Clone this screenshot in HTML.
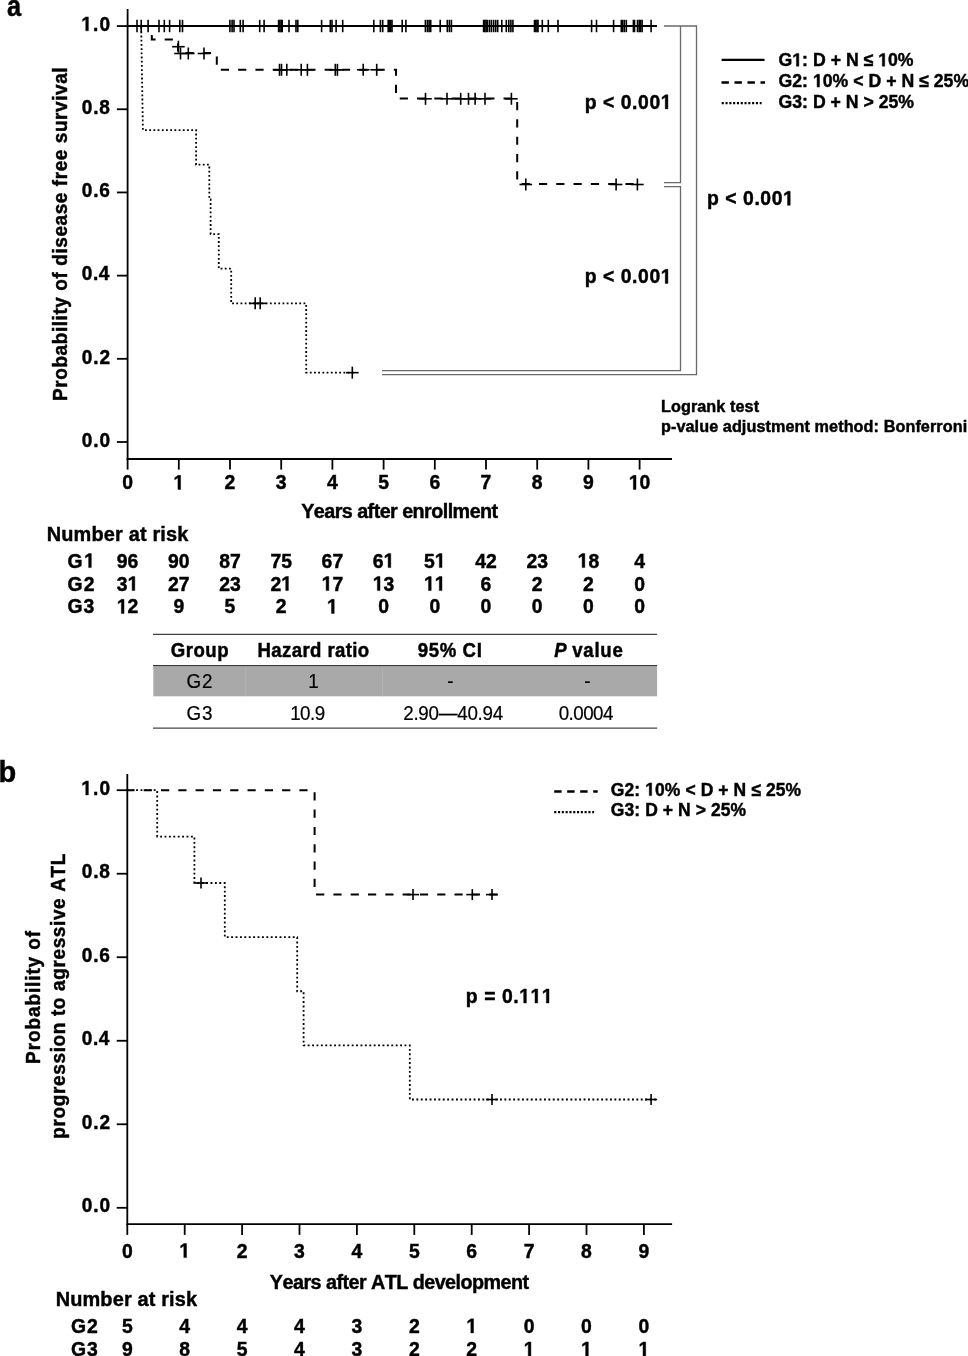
<!DOCTYPE html>
<html><head><meta charset="utf-8"><style>
html,body{margin:0;padding:0;background:#fff;}
body{width:968px;height:1356px;overflow:hidden;}
svg{display:block;font-family:"Liberation Sans",sans-serif;font-kerning:none;-webkit-font-smoothing:antialiased;will-change:transform;}
text{stroke:#000;stroke-width:0.2px;}
text.b{stroke:#000;stroke-width:0.45px;}
tspan.h{fill:none;stroke:none;}
</style></head><body>
<svg width="968" height="1356" viewBox="0 0 968 1356">
<rect width="968" height="1356" fill="#fff"/>
<text class="b" x="7.04" y="15.60" font-size="29.09" font-weight="bold" textLength="14.14" lengthAdjust="spacingAndGlyphs">a</text>
<line x1="127.60" y1="9.00" x2="127.60" y2="459.90" stroke="#000" stroke-width="1.8" />
<line x1="126.70" y1="459.00" x2="672.00" y2="459.00" stroke="#000" stroke-width="1.8" />
<line x1="116.90" y1="442.00" x2="127.60" y2="442.00" stroke="#000" stroke-width="1.8" />
<text class="b" transform="scale(0.95,1)" x="86.14" y="446.70" font-size="20.10" font-weight="bold" font-style="normal" textLength="29.74" lengthAdjust="spacing" fill="#000">0.0</text>
<line x1="116.90" y1="358.81" x2="127.60" y2="358.81" stroke="#000" stroke-width="1.8" />
<text class="b" transform="scale(0.95,1)" x="86.14" y="363.51" font-size="20.10" font-weight="bold" font-style="normal" textLength="29.74" lengthAdjust="spacing" fill="#000">0.2</text>
<line x1="116.90" y1="275.63" x2="127.60" y2="275.63" stroke="#000" stroke-width="1.8" />
<text class="b" transform="scale(0.95,1)" x="86.14" y="280.33" font-size="20.10" font-weight="bold" font-style="normal" textLength="29.03" lengthAdjust="spacing" fill="#000">0.4</text>
<line x1="116.90" y1="192.44" x2="127.60" y2="192.44" stroke="#000" stroke-width="1.8" />
<text class="b" transform="scale(0.95,1)" x="86.14" y="197.14" font-size="20.10" font-weight="bold" font-style="normal" textLength="29.64" lengthAdjust="spacing" fill="#000">0.6</text>
<line x1="116.90" y1="109.26" x2="127.60" y2="109.26" stroke="#000" stroke-width="1.8" />
<text class="b" transform="scale(0.95,1)" x="86.14" y="113.96" font-size="20.10" font-weight="bold" font-style="normal" textLength="29.54" lengthAdjust="spacing" fill="#000">0.8</text>
<line x1="116.90" y1="26.07" x2="127.60" y2="26.07" stroke="#000" stroke-width="1.8" />
<text class="b" transform="scale(0.95,1)" x="85.57" y="30.77" font-size="20.10" font-weight="bold" font-style="normal" textLength="30.31" lengthAdjust="spacing" fill="#000"><tspan class="h">1</tspan>.0</text>
<line x1="127.60" y1="459.00" x2="127.60" y2="469.60" stroke="#000" stroke-width="1.8" />
<text class="b" transform="scale(0.95,1)" x="134.32" y="489.40" font-size="20.40" font-weight="bold" font-style="normal" text-anchor="middle" fill="#000">0</text>
<line x1="178.80" y1="459.00" x2="178.80" y2="469.60" stroke="#000" stroke-width="1.8" />
<text class="b" transform="scale(0.95,1)" x="188.21" y="489.40" font-size="20.40" font-weight="bold" font-style="normal" text-anchor="middle" fill="#000"><tspan class="h">1</tspan></text>
<line x1="230.00" y1="459.00" x2="230.00" y2="469.60" stroke="#000" stroke-width="1.8" />
<text class="b" transform="scale(0.95,1)" x="242.11" y="489.40" font-size="20.40" font-weight="bold" font-style="normal" text-anchor="middle" fill="#000">2</text>
<line x1="281.20" y1="459.00" x2="281.20" y2="469.60" stroke="#000" stroke-width="1.8" />
<text class="b" transform="scale(0.95,1)" x="296.00" y="489.40" font-size="20.40" font-weight="bold" font-style="normal" text-anchor="middle" fill="#000">3</text>
<line x1="332.40" y1="459.00" x2="332.40" y2="469.60" stroke="#000" stroke-width="1.8" />
<text class="b" transform="scale(0.95,1)" x="349.89" y="489.40" font-size="20.40" font-weight="bold" font-style="normal" text-anchor="middle" fill="#000">4</text>
<line x1="383.60" y1="459.00" x2="383.60" y2="469.60" stroke="#000" stroke-width="1.8" />
<text class="b" transform="scale(0.95,1)" x="403.79" y="489.40" font-size="20.40" font-weight="bold" font-style="normal" text-anchor="middle" fill="#000">5</text>
<line x1="434.80" y1="459.00" x2="434.80" y2="469.60" stroke="#000" stroke-width="1.8" />
<text class="b" transform="scale(0.95,1)" x="457.68" y="489.40" font-size="20.40" font-weight="bold" font-style="normal" text-anchor="middle" fill="#000">6</text>
<line x1="486.00" y1="459.00" x2="486.00" y2="469.60" stroke="#000" stroke-width="1.8" />
<text class="b" transform="scale(0.95,1)" x="511.58" y="489.40" font-size="20.40" font-weight="bold" font-style="normal" text-anchor="middle" fill="#000">7</text>
<line x1="537.20" y1="459.00" x2="537.20" y2="469.60" stroke="#000" stroke-width="1.8" />
<text class="b" transform="scale(0.95,1)" x="565.47" y="489.40" font-size="20.40" font-weight="bold" font-style="normal" text-anchor="middle" fill="#000">8</text>
<line x1="588.40" y1="459.00" x2="588.40" y2="469.60" stroke="#000" stroke-width="1.8" />
<text class="b" transform="scale(0.95,1)" x="619.37" y="489.40" font-size="20.40" font-weight="bold" font-style="normal" text-anchor="middle" fill="#000">9</text>
<line x1="639.60" y1="459.00" x2="639.60" y2="469.60" stroke="#000" stroke-width="1.8" />
<text class="b" transform="scale(0.95,1)" x="673.26" y="489.40" font-size="20.40" font-weight="bold" font-style="normal" text-anchor="middle" fill="#000"><tspan class="h">1</tspan>0</text>
<text class="b" transform="scale(0.95,1)" x="317.06" y="517.80" font-size="20.80" font-weight="bold" font-style="normal" textLength="207.32" lengthAdjust="spacing" fill="#000">Years after enrollment</text>
<text class="b" transform="translate(67.20,400.98) rotate(-90) scale(0.95,1)" x="0" y="0" font-size="20.00" font-weight="bold" textLength="351.18" lengthAdjust="spacing">Probability of disease free survival</text>
<line x1="127.60" y1="26.00" x2="657.00" y2="26.00" stroke="#000" stroke-width="2.2" />
<line x1="137.00" y1="19.80" x2="137.00" y2="32.20" stroke="#000" stroke-width="1.6" />
<line x1="141.20" y1="19.80" x2="141.20" y2="32.20" stroke="#000" stroke-width="1.6" />
<line x1="148.10" y1="19.80" x2="148.10" y2="32.20" stroke="#000" stroke-width="1.6" />
<line x1="159.00" y1="19.80" x2="159.00" y2="32.20" stroke="#000" stroke-width="1.6" />
<line x1="164.30" y1="19.80" x2="164.30" y2="32.20" stroke="#000" stroke-width="1.6" />
<line x1="169.60" y1="19.80" x2="169.60" y2="32.20" stroke="#000" stroke-width="1.6" />
<line x1="179.80" y1="19.80" x2="179.80" y2="32.20" stroke="#000" stroke-width="1.6" />
<line x1="182.50" y1="19.80" x2="182.50" y2="32.20" stroke="#000" stroke-width="1.6" />
<line x1="229.90" y1="19.80" x2="229.90" y2="32.20" stroke="#000" stroke-width="1.6" />
<line x1="232.10" y1="19.80" x2="232.10" y2="32.20" stroke="#000" stroke-width="1.6" />
<line x1="234.00" y1="19.80" x2="234.00" y2="32.20" stroke="#000" stroke-width="1.6" />
<line x1="240.30" y1="19.80" x2="240.30" y2="32.20" stroke="#000" stroke-width="1.6" />
<line x1="243.10" y1="19.80" x2="243.10" y2="32.20" stroke="#000" stroke-width="1.6" />
<line x1="259.70" y1="19.80" x2="259.70" y2="32.20" stroke="#000" stroke-width="1.6" />
<line x1="264.10" y1="19.80" x2="264.10" y2="32.20" stroke="#000" stroke-width="1.6" />
<line x1="278.60" y1="19.80" x2="278.60" y2="32.20" stroke="#000" stroke-width="1.6" />
<line x1="279.90" y1="19.80" x2="279.90" y2="32.20" stroke="#000" stroke-width="1.6" />
<line x1="281.20" y1="19.80" x2="281.20" y2="32.20" stroke="#000" stroke-width="1.6" />
<line x1="282.20" y1="19.80" x2="282.20" y2="32.20" stroke="#000" stroke-width="1.6" />
<line x1="289.00" y1="19.80" x2="289.00" y2="32.20" stroke="#000" stroke-width="1.6" />
<line x1="296.00" y1="19.80" x2="296.00" y2="32.20" stroke="#000" stroke-width="1.6" />
<line x1="297.80" y1="19.80" x2="297.80" y2="32.20" stroke="#000" stroke-width="1.6" />
<line x1="321.60" y1="19.80" x2="321.60" y2="32.20" stroke="#000" stroke-width="1.6" />
<line x1="330.30" y1="19.80" x2="330.30" y2="32.20" stroke="#000" stroke-width="1.6" />
<line x1="332.00" y1="19.80" x2="332.00" y2="32.20" stroke="#000" stroke-width="1.6" />
<line x1="336.10" y1="19.80" x2="336.10" y2="32.20" stroke="#000" stroke-width="1.6" />
<line x1="342.70" y1="19.80" x2="342.70" y2="32.20" stroke="#000" stroke-width="1.6" />
<line x1="373.80" y1="19.80" x2="373.80" y2="32.20" stroke="#000" stroke-width="1.6" />
<line x1="380.40" y1="19.80" x2="380.40" y2="32.20" stroke="#000" stroke-width="1.6" />
<line x1="382.70" y1="19.80" x2="382.70" y2="32.20" stroke="#000" stroke-width="1.6" />
<line x1="388.20" y1="19.80" x2="388.20" y2="32.20" stroke="#000" stroke-width="1.6" />
<line x1="389.30" y1="19.80" x2="389.30" y2="32.20" stroke="#000" stroke-width="1.6" />
<line x1="390.70" y1="19.80" x2="390.70" y2="32.20" stroke="#000" stroke-width="1.6" />
<line x1="392.00" y1="19.80" x2="392.00" y2="32.20" stroke="#000" stroke-width="1.6" />
<line x1="402.20" y1="19.80" x2="402.20" y2="32.20" stroke="#000" stroke-width="1.6" />
<line x1="405.90" y1="19.80" x2="405.90" y2="32.20" stroke="#000" stroke-width="1.6" />
<line x1="425.40" y1="19.80" x2="425.40" y2="32.20" stroke="#000" stroke-width="1.6" />
<line x1="427.40" y1="19.80" x2="427.40" y2="32.20" stroke="#000" stroke-width="1.6" />
<line x1="429.10" y1="19.80" x2="429.10" y2="32.20" stroke="#000" stroke-width="1.6" />
<line x1="430.70" y1="19.80" x2="430.70" y2="32.20" stroke="#000" stroke-width="1.6" />
<line x1="440.20" y1="19.80" x2="440.20" y2="32.20" stroke="#000" stroke-width="1.6" />
<line x1="447.30" y1="19.80" x2="447.30" y2="32.20" stroke="#000" stroke-width="1.6" />
<line x1="449.40" y1="19.80" x2="449.40" y2="32.20" stroke="#000" stroke-width="1.6" />
<line x1="451.40" y1="19.80" x2="451.40" y2="32.20" stroke="#000" stroke-width="1.6" />
<line x1="483.60" y1="19.80" x2="483.60" y2="32.20" stroke="#000" stroke-width="1.6" />
<line x1="484.80" y1="19.80" x2="484.80" y2="32.20" stroke="#000" stroke-width="1.6" />
<line x1="486.10" y1="19.80" x2="486.10" y2="32.20" stroke="#000" stroke-width="1.6" />
<line x1="487.30" y1="19.80" x2="487.30" y2="32.20" stroke="#000" stroke-width="1.6" />
<line x1="489.40" y1="19.80" x2="489.40" y2="32.20" stroke="#000" stroke-width="1.6" />
<line x1="491.40" y1="19.80" x2="491.40" y2="32.20" stroke="#000" stroke-width="1.6" />
<line x1="493.60" y1="19.80" x2="493.60" y2="32.20" stroke="#000" stroke-width="1.6" />
<line x1="495.70" y1="19.80" x2="495.70" y2="32.20" stroke="#000" stroke-width="1.6" />
<line x1="497.70" y1="19.80" x2="497.70" y2="32.20" stroke="#000" stroke-width="1.6" />
<line x1="501.80" y1="19.80" x2="501.80" y2="32.20" stroke="#000" stroke-width="1.6" />
<line x1="506.30" y1="19.80" x2="506.30" y2="32.20" stroke="#000" stroke-width="1.6" />
<line x1="508.80" y1="19.80" x2="508.80" y2="32.20" stroke="#000" stroke-width="1.6" />
<line x1="510.90" y1="19.80" x2="510.90" y2="32.20" stroke="#000" stroke-width="1.6" />
<line x1="512.90" y1="19.80" x2="512.90" y2="32.20" stroke="#000" stroke-width="1.6" />
<line x1="534.50" y1="19.80" x2="534.50" y2="32.20" stroke="#000" stroke-width="1.6" />
<line x1="535.70" y1="19.80" x2="535.70" y2="32.20" stroke="#000" stroke-width="1.6" />
<line x1="537.00" y1="19.80" x2="537.00" y2="32.20" stroke="#000" stroke-width="1.6" />
<line x1="538.00" y1="19.80" x2="538.00" y2="32.20" stroke="#000" stroke-width="1.6" />
<line x1="542.30" y1="19.80" x2="542.30" y2="32.20" stroke="#000" stroke-width="1.6" />
<line x1="548.30" y1="19.80" x2="548.30" y2="32.20" stroke="#000" stroke-width="1.6" />
<line x1="558.00" y1="19.80" x2="558.00" y2="32.20" stroke="#000" stroke-width="1.6" />
<line x1="591.60" y1="19.80" x2="591.60" y2="32.20" stroke="#000" stroke-width="1.6" />
<line x1="596.50" y1="19.80" x2="596.50" y2="32.20" stroke="#000" stroke-width="1.6" />
<line x1="613.60" y1="19.80" x2="613.60" y2="32.20" stroke="#000" stroke-width="1.6" />
<line x1="621.30" y1="19.80" x2="621.30" y2="32.20" stroke="#000" stroke-width="1.6" />
<line x1="622.60" y1="19.80" x2="622.60" y2="32.20" stroke="#000" stroke-width="1.6" />
<line x1="624.30" y1="19.80" x2="624.30" y2="32.20" stroke="#000" stroke-width="1.6" />
<line x1="626.30" y1="19.80" x2="626.30" y2="32.20" stroke="#000" stroke-width="1.6" />
<line x1="633.40" y1="19.80" x2="633.40" y2="32.20" stroke="#000" stroke-width="1.6" />
<line x1="634.50" y1="19.80" x2="634.50" y2="32.20" stroke="#000" stroke-width="1.6" />
<line x1="637.50" y1="19.80" x2="637.50" y2="32.20" stroke="#000" stroke-width="1.6" />
<line x1="639.20" y1="19.80" x2="639.20" y2="32.20" stroke="#000" stroke-width="1.6" />
<line x1="640.50" y1="19.80" x2="640.50" y2="32.20" stroke="#000" stroke-width="1.6" />
<line x1="642.10" y1="19.80" x2="642.10" y2="32.20" stroke="#000" stroke-width="1.6" />
<line x1="651.10" y1="19.80" x2="651.10" y2="32.20" stroke="#000" stroke-width="1.6" />
<path d="M127.60,26.07 L151.80,26.07 L151.80,39.38 L178.00,39.38 L178.00,53.11 L216.80,53.11 L216.80,69.74 L396.00,69.74 L396.00,98.44 L517.20,98.44 L517.20,184.12 L640.00,184.12" fill="none" stroke="#000" stroke-width="2.0" stroke-dasharray="8.2,9.1" stroke-dashoffset="1.5"/>
<line x1="172.10" y1="46.70" x2="184.70" y2="46.70" stroke="#000" stroke-width="1.6" />
<line x1="178.40" y1="40.70" x2="178.40" y2="52.70" stroke="#000" stroke-width="1.6" />
<line x1="174.20" y1="53.50" x2="186.80" y2="53.50" stroke="#000" stroke-width="1.6" />
<line x1="180.50" y1="47.50" x2="180.50" y2="59.50" stroke="#000" stroke-width="1.6" />
<line x1="182.00" y1="53.50" x2="194.60" y2="53.50" stroke="#000" stroke-width="1.6" />
<line x1="188.30" y1="47.50" x2="188.30" y2="59.50" stroke="#000" stroke-width="1.6" />
<line x1="197.70" y1="53.50" x2="210.30" y2="53.50" stroke="#000" stroke-width="1.6" />
<line x1="204.00" y1="47.50" x2="204.00" y2="59.50" stroke="#000" stroke-width="1.6" />
<line x1="273.20" y1="69.80" x2="285.80" y2="69.80" stroke="#000" stroke-width="1.6" />
<line x1="279.50" y1="63.80" x2="279.50" y2="75.80" stroke="#000" stroke-width="1.6" />
<line x1="275.20" y1="69.80" x2="287.80" y2="69.80" stroke="#000" stroke-width="1.6" />
<line x1="281.50" y1="63.80" x2="281.50" y2="75.80" stroke="#000" stroke-width="1.6" />
<line x1="280.50" y1="69.80" x2="293.10" y2="69.80" stroke="#000" stroke-width="1.6" />
<line x1="286.80" y1="63.80" x2="286.80" y2="75.80" stroke="#000" stroke-width="1.6" />
<line x1="294.90" y1="69.80" x2="307.50" y2="69.80" stroke="#000" stroke-width="1.6" />
<line x1="301.20" y1="63.80" x2="301.20" y2="75.80" stroke="#000" stroke-width="1.6" />
<line x1="301.10" y1="69.80" x2="313.70" y2="69.80" stroke="#000" stroke-width="1.6" />
<line x1="307.40" y1="63.80" x2="307.40" y2="75.80" stroke="#000" stroke-width="1.6" />
<line x1="329.00" y1="69.80" x2="341.60" y2="69.80" stroke="#000" stroke-width="1.6" />
<line x1="335.30" y1="63.80" x2="335.30" y2="75.80" stroke="#000" stroke-width="1.6" />
<line x1="331.10" y1="69.80" x2="343.70" y2="69.80" stroke="#000" stroke-width="1.6" />
<line x1="337.40" y1="63.80" x2="337.40" y2="75.80" stroke="#000" stroke-width="1.6" />
<line x1="356.90" y1="69.80" x2="369.50" y2="69.80" stroke="#000" stroke-width="1.6" />
<line x1="363.20" y1="63.80" x2="363.20" y2="75.80" stroke="#000" stroke-width="1.6" />
<line x1="370.40" y1="69.80" x2="383.00" y2="69.80" stroke="#000" stroke-width="1.6" />
<line x1="376.70" y1="63.80" x2="376.70" y2="75.80" stroke="#000" stroke-width="1.6" />
<line x1="419.20" y1="98.80" x2="431.80" y2="98.80" stroke="#000" stroke-width="1.6" />
<line x1="425.50" y1="92.80" x2="425.50" y2="104.80" stroke="#000" stroke-width="1.6" />
<line x1="440.70" y1="98.80" x2="453.30" y2="98.80" stroke="#000" stroke-width="1.6" />
<line x1="447.00" y1="92.80" x2="447.00" y2="104.80" stroke="#000" stroke-width="1.6" />
<line x1="454.40" y1="98.80" x2="467.00" y2="98.80" stroke="#000" stroke-width="1.6" />
<line x1="460.70" y1="92.80" x2="460.70" y2="104.80" stroke="#000" stroke-width="1.6" />
<line x1="462.20" y1="98.80" x2="474.80" y2="98.80" stroke="#000" stroke-width="1.6" />
<line x1="468.50" y1="92.80" x2="468.50" y2="104.80" stroke="#000" stroke-width="1.6" />
<line x1="468.80" y1="98.80" x2="481.40" y2="98.80" stroke="#000" stroke-width="1.6" />
<line x1="475.10" y1="92.80" x2="475.10" y2="104.80" stroke="#000" stroke-width="1.6" />
<line x1="478.70" y1="98.80" x2="491.30" y2="98.80" stroke="#000" stroke-width="1.6" />
<line x1="485.00" y1="92.80" x2="485.00" y2="104.80" stroke="#000" stroke-width="1.6" />
<line x1="505.10" y1="98.80" x2="517.70" y2="98.80" stroke="#000" stroke-width="1.6" />
<line x1="511.40" y1="92.80" x2="511.40" y2="104.80" stroke="#000" stroke-width="1.6" />
<line x1="519.50" y1="184.50" x2="532.10" y2="184.50" stroke="#000" stroke-width="1.6" />
<line x1="525.80" y1="178.50" x2="525.80" y2="190.50" stroke="#000" stroke-width="1.6" />
<line x1="609.80" y1="184.50" x2="622.40" y2="184.50" stroke="#000" stroke-width="1.6" />
<line x1="616.10" y1="178.50" x2="616.10" y2="190.50" stroke="#000" stroke-width="1.6" />
<line x1="631.10" y1="184.50" x2="643.70" y2="184.50" stroke="#000" stroke-width="1.6" />
<line x1="637.40" y1="178.50" x2="637.40" y2="190.50" stroke="#000" stroke-width="1.6" />
<path d="M141.2,27.2 L142.9,130.05 L142.90,130.05 L196.10,130.05 L196.10,164.70 L209.30,164.70 L209.30,199.39 L210.60,199.39 L210.60,234.03 L218.80,234.03 L218.80,268.68 L231.20,268.68 L231.20,303.37 L306.20,303.37 L306.20,372.66 L356.00,372.66" fill="none" stroke="#000" stroke-width="1.8" stroke-dasharray="1.8,2.4" />
<line x1="248.90" y1="303.37" x2="261.50" y2="303.37" stroke="#000" stroke-width="1.6" />
<line x1="255.20" y1="297.37" x2="255.20" y2="309.37" stroke="#000" stroke-width="1.6" />
<line x1="253.90" y1="303.37" x2="266.50" y2="303.37" stroke="#000" stroke-width="1.6" />
<line x1="260.20" y1="297.37" x2="260.20" y2="309.37" stroke="#000" stroke-width="1.6" />
<line x1="346.00" y1="372.66" x2="358.60" y2="372.66" stroke="#000" stroke-width="1.6" />
<line x1="352.30" y1="366.66" x2="352.30" y2="378.66" stroke="#000" stroke-width="1.6" />
<path d="M664,26.0 L696.5,26.0 L696.5,374.6 L382,374.6" fill="none" stroke="#6a6a6a" stroke-width="1.3" />
<path d="M680.5,26.0 L680.5,182.6 L664,182.6" fill="none" stroke="#6a6a6a" stroke-width="1.3" />
<path d="M664,186.6 L680.5,186.6 L680.5,370.6 L382,370.6" fill="none" stroke="#6a6a6a" stroke-width="1.3" />
<text class="b" transform="scale(0.95,1)" x="615.41" y="108.90" font-size="20.40" font-weight="bold" font-style="normal" textLength="91.43" lengthAdjust="spacing" fill="#000">p &lt; 0.00<tspan class="h">1</tspan></text>
<text class="b" transform="scale(0.95,1)" x="615.41" y="283.40" font-size="20.40" font-weight="bold" font-style="normal" textLength="91.43" lengthAdjust="spacing" fill="#000">p &lt; 0.00<tspan class="h">1</tspan></text>
<text class="b" transform="scale(0.95,1)" x="744.15" y="205.30" font-size="20.40" font-weight="bold" font-style="normal" textLength="91.43" lengthAdjust="spacing" fill="#000">p &lt; 0.00<tspan class="h">1</tspan></text>
<line x1="721.60" y1="59.90" x2="764.60" y2="59.90" stroke="#000" stroke-width="2.4" />
<path d="M721.5,82.4 L765.0,82.4" fill="none" stroke="#000" stroke-width="2.5" stroke-dasharray="7.4,5.6" />
<path d="M721.7,103.2 L761.6,103.2" fill="none" stroke="#000" stroke-width="2.3" stroke-dasharray="2.1,1.7" />
<text class="b" transform="scale(0.95,1)" x="819.52" y="66.20" font-size="18.60" font-weight="bold" font-style="normal" textLength="142.13" lengthAdjust="spacing" fill="#000">G<tspan class="h">1</tspan>: D + N ≤ <tspan class="h">1</tspan>0%</text>
<text class="b" transform="scale(0.95,1)" x="819.52" y="87.10" font-size="18.60" font-weight="bold" font-style="normal" textLength="200.61" lengthAdjust="spacing" fill="#000">G2: <tspan class="h">1</tspan>0% &lt; D + N ≤ 25%</text>
<text class="b" transform="scale(0.95,1)" x="819.52" y="107.90" font-size="18.60" font-weight="bold" font-style="normal" textLength="142.66" lengthAdjust="spacing" fill="#000">G3: D + N &gt; 25%</text>
<text class="b" transform="scale(0.95,1)" x="695.69" y="412.20" font-size="17.10" font-weight="bold" font-style="normal" textLength="103.38" lengthAdjust="spacing" fill="#000">Logrank test</text>
<text class="b" transform="scale(0.95,1)" x="695.73" y="431.70" font-size="17.10" font-weight="bold" font-style="normal" textLength="322.37" lengthAdjust="spacing" fill="#000">p-value adjustment method: Bonferroni</text>
<text class="b" transform="scale(0.95,1)" x="49.16" y="541.20" font-size="21.00" font-weight="bold" font-style="normal" textLength="149.13" lengthAdjust="spacing" fill="#000">Number at risk</text>
<text class="b" transform="scale(0.95,1)" x="71.18" y="567.60" font-size="20.40" font-weight="bold" font-style="normal" textLength="28.71" lengthAdjust="spacing" fill="#000">G<tspan class="h">1</tspan></text>
<text class="b" transform="scale(0.95,1)" x="134.32" y="567.60" font-size="20.40" font-weight="bold" font-style="normal" text-anchor="middle" fill="#000">96</text>
<text class="b" transform="scale(0.95,1)" x="188.21" y="567.60" font-size="20.40" font-weight="bold" font-style="normal" text-anchor="middle" fill="#000">90</text>
<text class="b" transform="scale(0.95,1)" x="242.11" y="567.60" font-size="20.40" font-weight="bold" font-style="normal" text-anchor="middle" fill="#000">87</text>
<text class="b" transform="scale(0.95,1)" x="296.00" y="567.60" font-size="20.40" font-weight="bold" font-style="normal" text-anchor="middle" fill="#000">75</text>
<text class="b" transform="scale(0.95,1)" x="349.89" y="567.60" font-size="20.40" font-weight="bold" font-style="normal" text-anchor="middle" fill="#000">67</text>
<text class="b" transform="scale(0.95,1)" x="403.79" y="567.60" font-size="20.40" font-weight="bold" font-style="normal" text-anchor="middle" fill="#000">6<tspan class="h">1</tspan></text>
<text class="b" transform="scale(0.95,1)" x="457.68" y="567.60" font-size="20.40" font-weight="bold" font-style="normal" text-anchor="middle" fill="#000">5<tspan class="h">1</tspan></text>
<text class="b" transform="scale(0.95,1)" x="511.58" y="567.60" font-size="20.40" font-weight="bold" font-style="normal" text-anchor="middle" fill="#000">42</text>
<text class="b" transform="scale(0.95,1)" x="565.47" y="567.60" font-size="20.40" font-weight="bold" font-style="normal" text-anchor="middle" fill="#000">23</text>
<text class="b" transform="scale(0.95,1)" x="619.37" y="567.60" font-size="20.40" font-weight="bold" font-style="normal" text-anchor="middle" fill="#000"><tspan class="h">1</tspan>8</text>
<text class="b" transform="scale(0.95,1)" x="673.26" y="567.60" font-size="20.40" font-weight="bold" font-style="normal" text-anchor="middle" fill="#000">4</text>
<text class="b" transform="scale(0.95,1)" x="71.18" y="590.60" font-size="20.40" font-weight="bold" font-style="normal" textLength="28.29" lengthAdjust="spacing" fill="#000">G2</text>
<text class="b" transform="scale(0.95,1)" x="134.32" y="590.60" font-size="20.40" font-weight="bold" font-style="normal" text-anchor="middle" fill="#000">3<tspan class="h">1</tspan></text>
<text class="b" transform="scale(0.95,1)" x="188.21" y="590.60" font-size="20.40" font-weight="bold" font-style="normal" text-anchor="middle" fill="#000">27</text>
<text class="b" transform="scale(0.95,1)" x="242.11" y="590.60" font-size="20.40" font-weight="bold" font-style="normal" text-anchor="middle" fill="#000">23</text>
<text class="b" transform="scale(0.95,1)" x="296.00" y="590.60" font-size="20.40" font-weight="bold" font-style="normal" text-anchor="middle" fill="#000">2<tspan class="h">1</tspan></text>
<text class="b" transform="scale(0.95,1)" x="349.89" y="590.60" font-size="20.40" font-weight="bold" font-style="normal" text-anchor="middle" fill="#000"><tspan class="h">1</tspan>7</text>
<text class="b" transform="scale(0.95,1)" x="403.79" y="590.60" font-size="20.40" font-weight="bold" font-style="normal" text-anchor="middle" fill="#000"><tspan class="h">1</tspan>3</text>
<text class="b" transform="scale(0.95,1)" x="457.68" y="590.60" font-size="20.40" font-weight="bold" font-style="normal" text-anchor="middle" fill="#000"><tspan class="h">1</tspan><tspan class="h">1</tspan></text>
<text class="b" transform="scale(0.95,1)" x="511.58" y="590.60" font-size="20.40" font-weight="bold" font-style="normal" text-anchor="middle" fill="#000">6</text>
<text class="b" transform="scale(0.95,1)" x="565.47" y="590.60" font-size="20.40" font-weight="bold" font-style="normal" text-anchor="middle" fill="#000">2</text>
<text class="b" transform="scale(0.95,1)" x="619.37" y="590.60" font-size="20.40" font-weight="bold" font-style="normal" text-anchor="middle" fill="#000">2</text>
<text class="b" transform="scale(0.95,1)" x="673.26" y="590.60" font-size="20.40" font-weight="bold" font-style="normal" text-anchor="middle" fill="#000">0</text>
<text class="b" transform="scale(0.95,1)" x="71.18" y="613.40" font-size="20.40" font-weight="bold" font-style="normal" textLength="27.97" lengthAdjust="spacing" fill="#000">G3</text>
<text class="b" transform="scale(0.95,1)" x="134.32" y="613.40" font-size="20.40" font-weight="bold" font-style="normal" text-anchor="middle" fill="#000"><tspan class="h">1</tspan>2</text>
<text class="b" transform="scale(0.95,1)" x="188.21" y="613.40" font-size="20.40" font-weight="bold" font-style="normal" text-anchor="middle" fill="#000">9</text>
<text class="b" transform="scale(0.95,1)" x="242.11" y="613.40" font-size="20.40" font-weight="bold" font-style="normal" text-anchor="middle" fill="#000">5</text>
<text class="b" transform="scale(0.95,1)" x="296.00" y="613.40" font-size="20.40" font-weight="bold" font-style="normal" text-anchor="middle" fill="#000">2</text>
<text class="b" transform="scale(0.95,1)" x="349.89" y="613.40" font-size="20.40" font-weight="bold" font-style="normal" text-anchor="middle" fill="#000"><tspan class="h">1</tspan></text>
<text class="b" transform="scale(0.95,1)" x="403.79" y="613.40" font-size="20.40" font-weight="bold" font-style="normal" text-anchor="middle" fill="#000">0</text>
<text class="b" transform="scale(0.95,1)" x="457.68" y="613.40" font-size="20.40" font-weight="bold" font-style="normal" text-anchor="middle" fill="#000">0</text>
<text class="b" transform="scale(0.95,1)" x="511.58" y="613.40" font-size="20.40" font-weight="bold" font-style="normal" text-anchor="middle" fill="#000">0</text>
<text class="b" transform="scale(0.95,1)" x="565.47" y="613.40" font-size="20.40" font-weight="bold" font-style="normal" text-anchor="middle" fill="#000">0</text>
<text class="b" transform="scale(0.95,1)" x="619.37" y="613.40" font-size="20.40" font-weight="bold" font-style="normal" text-anchor="middle" fill="#000">0</text>
<text class="b" transform="scale(0.95,1)" x="673.26" y="613.40" font-size="20.40" font-weight="bold" font-style="normal" text-anchor="middle" fill="#000">0</text>
<rect x="153.3" y="666.3" width="503.8" height="30.0" fill="#a9a9a9"/>
<line x1="245.80" y1="666.30" x2="245.80" y2="696.30" stroke="#b5b5b5" stroke-width="1.0" />
<line x1="382.40" y1="666.30" x2="382.40" y2="696.30" stroke="#b5b5b5" stroke-width="1.0" />
<line x1="153.00" y1="634.40" x2="657.10" y2="634.40" stroke="#404040" stroke-width="1.4" />
<line x1="153.00" y1="665.60" x2="657.10" y2="665.60" stroke="#383838" stroke-width="1.4" />
<line x1="153.00" y1="728.10" x2="657.10" y2="728.10" stroke="#454545" stroke-width="1.4" />
<text class="b" transform="scale(0.95,1)" x="179.85" y="657.00" font-size="19.60" font-weight="bold" font-style="normal" textLength="60.74" lengthAdjust="spacing" fill="#000">Group</text>
<text class="b" transform="scale(0.95,1)" x="271.10" y="657.00" font-size="19.60" font-weight="bold" font-style="normal" textLength="117.55" lengthAdjust="spacing" fill="#000">Hazard ratio</text>
<text class="b" transform="scale(0.95,1)" x="439.74" y="657.00" font-size="19.60" font-weight="bold" font-style="normal" textLength="67.49" lengthAdjust="spacing" fill="#000">95% CI</text>
<text class="b" transform="scale(0.95,1)" x="583.55" y="657.00" font-size="19.60" font-weight="bold" font-style="italic" fill="#000">P</text>
<text class="b" transform="scale(0.95,1)" x="602.32" y="657.00" font-size="19.60" font-weight="bold" font-style="normal" textLength="53.28" lengthAdjust="spacing" fill="#000">value</text>
<text transform="scale(0.95,1)" x="196.38" y="688.40" font-size="19.80" font-weight="normal" font-style="normal" textLength="27.37" lengthAdjust="spacing" fill="#000">G2</text>
<text transform="scale(0.95,1)" x="330.11" y="688.40" font-size="19.80" font-weight="normal" font-style="normal" text-anchor="middle" fill="#000">1</text>
<text transform="scale(0.95,1)" x="474.11" y="688.40" font-size="19.80" font-weight="normal" font-style="normal" text-anchor="middle" fill="#000">-</text>
<text transform="scale(0.95,1)" x="618.21" y="688.40" font-size="19.80" font-weight="normal" font-style="normal" text-anchor="middle" fill="#000">-</text>
<text transform="scale(0.95,1)" x="196.38" y="720.50" font-size="19.80" font-weight="normal" font-style="normal" textLength="27.22" lengthAdjust="spacing" fill="#000">G3</text>
<text transform="scale(0.95,1)" x="305.46" y="720.50" font-size="19.80" font-weight="normal" font-style="normal" textLength="36.82" lengthAdjust="spacing" fill="#000">10.9</text>
<text transform="scale(0.95,1)" x="424.48" y="720.50" font-size="19.80" font-weight="normal" font-style="normal" textLength="105.14" lengthAdjust="spacing" fill="#000">2.90—40.94</text>
<text transform="scale(0.95,1)" x="588.05" y="720.50" font-size="19.80" font-weight="normal" font-style="normal" textLength="57.68" lengthAdjust="spacing" fill="#000">0.0004</text>
<text class="b" x="-1.63" y="781.5" font-size="29" font-weight="bold">b</text>
<line x1="127.30" y1="774.10" x2="127.30" y2="1225.00" stroke="#000" stroke-width="1.8" />
<line x1="126.40" y1="1224.10" x2="672.10" y2="1224.10" stroke="#000" stroke-width="1.8" />
<line x1="116.70" y1="1207.80" x2="127.30" y2="1207.80" stroke="#000" stroke-width="1.8" />
<text class="b" transform="scale(0.95,1)" x="86.14" y="1212.50" font-size="20.10" font-weight="bold" font-style="normal" textLength="29.74" lengthAdjust="spacing" fill="#000">0.0</text>
<line x1="116.70" y1="1124.28" x2="127.30" y2="1124.28" stroke="#000" stroke-width="1.8" />
<text class="b" transform="scale(0.95,1)" x="86.14" y="1128.98" font-size="20.10" font-weight="bold" font-style="normal" textLength="29.74" lengthAdjust="spacing" fill="#000">0.2</text>
<line x1="116.70" y1="1040.76" x2="127.30" y2="1040.76" stroke="#000" stroke-width="1.8" />
<text class="b" transform="scale(0.95,1)" x="86.14" y="1045.46" font-size="20.10" font-weight="bold" font-style="normal" textLength="29.03" lengthAdjust="spacing" fill="#000">0.4</text>
<line x1="116.70" y1="957.24" x2="127.30" y2="957.24" stroke="#000" stroke-width="1.8" />
<text class="b" transform="scale(0.95,1)" x="86.14" y="961.94" font-size="20.10" font-weight="bold" font-style="normal" textLength="29.64" lengthAdjust="spacing" fill="#000">0.6</text>
<line x1="116.70" y1="873.72" x2="127.30" y2="873.72" stroke="#000" stroke-width="1.8" />
<text class="b" transform="scale(0.95,1)" x="86.14" y="878.42" font-size="20.10" font-weight="bold" font-style="normal" textLength="29.54" lengthAdjust="spacing" fill="#000">0.8</text>
<line x1="116.70" y1="790.20" x2="127.30" y2="790.20" stroke="#000" stroke-width="1.8" />
<text class="b" transform="scale(0.95,1)" x="85.57" y="794.90" font-size="20.10" font-weight="bold" font-style="normal" textLength="30.31" lengthAdjust="spacing" fill="#000"><tspan class="h">1</tspan>.0</text>
<line x1="127.30" y1="1224.10" x2="127.30" y2="1234.90" stroke="#000" stroke-width="1.8" />
<text class="b" transform="scale(0.95,1)" x="134.00" y="1257.60" font-size="20.40" font-weight="bold" font-style="normal" text-anchor="middle" fill="#000">0</text>
<line x1="184.70" y1="1224.10" x2="184.70" y2="1234.90" stroke="#000" stroke-width="1.8" />
<text class="b" transform="scale(0.95,1)" x="194.42" y="1257.60" font-size="20.40" font-weight="bold" font-style="normal" text-anchor="middle" fill="#000"><tspan class="h">1</tspan></text>
<line x1="242.10" y1="1224.10" x2="242.10" y2="1234.90" stroke="#000" stroke-width="1.8" />
<text class="b" transform="scale(0.95,1)" x="254.84" y="1257.60" font-size="20.40" font-weight="bold" font-style="normal" text-anchor="middle" fill="#000">2</text>
<line x1="299.50" y1="1224.10" x2="299.50" y2="1234.90" stroke="#000" stroke-width="1.8" />
<text class="b" transform="scale(0.95,1)" x="315.26" y="1257.60" font-size="20.40" font-weight="bold" font-style="normal" text-anchor="middle" fill="#000">3</text>
<line x1="356.90" y1="1224.10" x2="356.90" y2="1234.90" stroke="#000" stroke-width="1.8" />
<text class="b" transform="scale(0.95,1)" x="375.68" y="1257.60" font-size="20.40" font-weight="bold" font-style="normal" text-anchor="middle" fill="#000">4</text>
<line x1="414.30" y1="1224.10" x2="414.30" y2="1234.90" stroke="#000" stroke-width="1.8" />
<text class="b" transform="scale(0.95,1)" x="436.11" y="1257.60" font-size="20.40" font-weight="bold" font-style="normal" text-anchor="middle" fill="#000">5</text>
<line x1="471.70" y1="1224.10" x2="471.70" y2="1234.90" stroke="#000" stroke-width="1.8" />
<text class="b" transform="scale(0.95,1)" x="496.53" y="1257.60" font-size="20.40" font-weight="bold" font-style="normal" text-anchor="middle" fill="#000">6</text>
<line x1="529.10" y1="1224.10" x2="529.10" y2="1234.90" stroke="#000" stroke-width="1.8" />
<text class="b" transform="scale(0.95,1)" x="556.95" y="1257.60" font-size="20.40" font-weight="bold" font-style="normal" text-anchor="middle" fill="#000">7</text>
<line x1="586.50" y1="1224.10" x2="586.50" y2="1234.90" stroke="#000" stroke-width="1.8" />
<text class="b" transform="scale(0.95,1)" x="617.37" y="1257.60" font-size="20.40" font-weight="bold" font-style="normal" text-anchor="middle" fill="#000">8</text>
<line x1="643.90" y1="1224.10" x2="643.90" y2="1234.90" stroke="#000" stroke-width="1.8" />
<text class="b" transform="scale(0.95,1)" x="677.79" y="1257.60" font-size="20.40" font-weight="bold" font-style="normal" text-anchor="middle" fill="#000">9</text>
<text class="b" transform="scale(0.95,1)" x="284.06" y="1288.90" font-size="20.80" font-weight="bold" font-style="normal" textLength="272.95" lengthAdjust="spacing" fill="#000">Years after ATL development</text>
<text class="b" transform="translate(40.20,1063.88) rotate(-90) scale(0.95,1)" x="0" y="0" font-size="20.00" font-weight="bold" textLength="139.94" lengthAdjust="spacing">Probability of</text>
<text class="b" transform="translate(64.50,1138.63) rotate(-90) scale(0.95,1)" x="0" y="0" font-size="20.00" font-weight="bold" textLength="300.02" lengthAdjust="spacing">progression to agressive ATL</text>
<path d="M127.30,790.20 L314.60,790.20 L314.60,894.60 L498.00,894.60" fill="none" stroke="#000" stroke-width="2.0" stroke-dasharray="8.2,9.1" stroke-dashoffset="0.9"/>
<line x1="407.00" y1="894.60" x2="419.00" y2="894.60" stroke="#000" stroke-width="1.6" />
<line x1="413.00" y1="889.10" x2="413.00" y2="900.10" stroke="#000" stroke-width="1.6" />
<line x1="466.30" y1="894.60" x2="478.30" y2="894.60" stroke="#000" stroke-width="1.6" />
<line x1="472.30" y1="889.10" x2="472.30" y2="900.10" stroke="#000" stroke-width="1.6" />
<line x1="486.00" y1="894.60" x2="498.00" y2="894.60" stroke="#000" stroke-width="1.6" />
<line x1="492.00" y1="889.10" x2="492.00" y2="900.10" stroke="#000" stroke-width="1.6" />
<path d="M127.30,790.20 L157.20,790.20 L157.20,836.60 L194.40,836.60 L194.40,882.99 L224.80,882.99 L224.80,937.15 L297.20,937.15 L297.20,991.27 L303.60,991.27 L303.60,1045.40 L409.80,1045.40 L409.80,1099.52 L656.00,1099.52" fill="none" stroke="#000" stroke-width="1.8" stroke-dasharray="1.9,2.5" />
<line x1="195.00" y1="882.99" x2="207.00" y2="882.99" stroke="#000" stroke-width="1.6" />
<line x1="201.00" y1="877.49" x2="201.00" y2="888.49" stroke="#000" stroke-width="1.6" />
<line x1="486.00" y1="1099.52" x2="498.00" y2="1099.52" stroke="#000" stroke-width="1.6" />
<line x1="492.00" y1="1094.02" x2="492.00" y2="1105.02" stroke="#000" stroke-width="1.6" />
<line x1="645.10" y1="1099.52" x2="657.10" y2="1099.52" stroke="#000" stroke-width="1.6" />
<line x1="651.10" y1="1094.02" x2="651.10" y2="1105.02" stroke="#000" stroke-width="1.6" />
<text class="b" transform="scale(0.95,1)" x="490.36" y="1003.00" font-size="20.40" font-weight="bold" font-style="normal" textLength="91.32" lengthAdjust="spacing" fill="#000">p = 0.<tspan class="h">1</tspan><tspan class="h">1</tspan><tspan class="h">1</tspan></text>
<path d="M554.2,791.4 L597.7,791.4" fill="none" stroke="#000" stroke-width="2.5" stroke-dasharray="7.4,5.6" />
<path d="M554.2,812.1 L594.1,812.1" fill="none" stroke="#000" stroke-width="2.3" stroke-dasharray="2.1,1.7" />
<text class="b" transform="scale(0.95,1)" x="642.95" y="795.60" font-size="18.40" font-weight="bold" font-style="normal" textLength="200.28" lengthAdjust="spacing" fill="#000">G2: <tspan class="h">1</tspan>0% &lt; D + N ≤ 25%</text>
<text class="b" transform="scale(0.95,1)" x="642.95" y="816.40" font-size="18.40" font-weight="bold" font-style="normal" textLength="142.49" lengthAdjust="spacing" fill="#000">G3: D + N &gt; 25%</text>
<text class="b" transform="scale(0.95,1)" x="58.58" y="1306.50" font-size="21.00" font-weight="bold" font-style="normal" textLength="148.86" lengthAdjust="spacing" fill="#000">Number at risk</text>
<text class="b" transform="scale(0.95,1)" x="74.76" y="1332.90" font-size="20.40" font-weight="bold" font-style="normal" textLength="28.29" lengthAdjust="spacing" fill="#000">G2</text>
<text class="b" transform="scale(0.95,1)" x="134.00" y="1332.90" font-size="20.40" font-weight="bold" font-style="normal" text-anchor="middle" fill="#000">5</text>
<text class="b" transform="scale(0.95,1)" x="194.42" y="1332.90" font-size="20.40" font-weight="bold" font-style="normal" text-anchor="middle" fill="#000">4</text>
<text class="b" transform="scale(0.95,1)" x="254.84" y="1332.90" font-size="20.40" font-weight="bold" font-style="normal" text-anchor="middle" fill="#000">4</text>
<text class="b" transform="scale(0.95,1)" x="315.26" y="1332.90" font-size="20.40" font-weight="bold" font-style="normal" text-anchor="middle" fill="#000">4</text>
<text class="b" transform="scale(0.95,1)" x="375.68" y="1332.90" font-size="20.40" font-weight="bold" font-style="normal" text-anchor="middle" fill="#000">3</text>
<text class="b" transform="scale(0.95,1)" x="436.11" y="1332.90" font-size="20.40" font-weight="bold" font-style="normal" text-anchor="middle" fill="#000">2</text>
<text class="b" transform="scale(0.95,1)" x="496.53" y="1332.90" font-size="20.40" font-weight="bold" font-style="normal" text-anchor="middle" fill="#000"><tspan class="h">1</tspan></text>
<text class="b" transform="scale(0.95,1)" x="556.95" y="1332.90" font-size="20.40" font-weight="bold" font-style="normal" text-anchor="middle" fill="#000">0</text>
<text class="b" transform="scale(0.95,1)" x="617.37" y="1332.90" font-size="20.40" font-weight="bold" font-style="normal" text-anchor="middle" fill="#000">0</text>
<text class="b" transform="scale(0.95,1)" x="677.79" y="1332.90" font-size="20.40" font-weight="bold" font-style="normal" text-anchor="middle" fill="#000">0</text>
<text class="b" transform="scale(0.95,1)" x="74.76" y="1356.00" font-size="20.40" font-weight="bold" font-style="normal" textLength="28.19" lengthAdjust="spacing" fill="#000">G3</text>
<text class="b" transform="scale(0.95,1)" x="134.00" y="1356.00" font-size="20.40" font-weight="bold" font-style="normal" text-anchor="middle" fill="#000">9</text>
<text class="b" transform="scale(0.95,1)" x="194.42" y="1356.00" font-size="20.40" font-weight="bold" font-style="normal" text-anchor="middle" fill="#000">8</text>
<text class="b" transform="scale(0.95,1)" x="254.84" y="1356.00" font-size="20.40" font-weight="bold" font-style="normal" text-anchor="middle" fill="#000">5</text>
<text class="b" transform="scale(0.95,1)" x="315.26" y="1356.00" font-size="20.40" font-weight="bold" font-style="normal" text-anchor="middle" fill="#000">4</text>
<text class="b" transform="scale(0.95,1)" x="375.68" y="1356.00" font-size="20.40" font-weight="bold" font-style="normal" text-anchor="middle" fill="#000">3</text>
<text class="b" transform="scale(0.95,1)" x="436.11" y="1356.00" font-size="20.40" font-weight="bold" font-style="normal" text-anchor="middle" fill="#000">2</text>
<text class="b" transform="scale(0.95,1)" x="496.53" y="1356.00" font-size="20.40" font-weight="bold" font-style="normal" text-anchor="middle" fill="#000">2</text>
<text class="b" transform="scale(0.95,1)" x="556.95" y="1356.00" font-size="20.40" font-weight="bold" font-style="normal" text-anchor="middle" fill="#000"><tspan class="h">1</tspan></text>
<text class="b" transform="scale(0.95,1)" x="617.37" y="1356.00" font-size="20.40" font-weight="bold" font-style="normal" text-anchor="middle" fill="#000"><tspan class="h">1</tspan></text>
<text class="b" transform="scale(0.95,1)" x="677.79" y="1356.00" font-size="20.40" font-weight="bold" font-style="normal" text-anchor="middle" fill="#000"><tspan class="h">1</tspan></text>
<g fill="#000" stroke="#000" stroke-width="0.45"><path d="M85.75,30.77 L85.75,19.29 L82.60,21.36 L82.60,19.19 L85.89,16.94 L88.37,16.94 L88.37,30.77Z"/><path d="M177.94,489.40 L177.94,477.75 L174.74,479.85 L174.74,477.65 L178.08,475.37 L180.59,475.37 L180.59,489.40Z"/><path d="M633.35,489.40 L633.35,477.75 L630.15,479.85 L630.15,477.65 L633.49,475.37 L636.00,475.37 L636.00,489.40Z"/><path d="M665.25,108.90 L665.25,97.25 L662.05,99.35 L662.05,97.15 L665.39,94.87 L667.91,94.87 L667.91,108.90Z"/><path d="M665.25,283.40 L665.25,271.75 L662.05,273.85 L662.05,271.65 L665.39,269.37 L667.91,269.37 L667.91,283.40Z"/><path d="M787.55,205.30 L787.55,193.65 L784.35,195.75 L784.35,193.55 L787.69,191.27 L790.21,191.27 L790.21,205.30Z"/><path d="M796.42,66.20 L796.42,55.57 L793.50,57.49 L793.50,55.48 L796.55,53.40 L798.84,53.40 L798.84,66.20Z"/><path d="M882.31,66.20 L882.31,55.57 L879.39,57.49 L879.39,55.48 L882.44,53.40 L884.73,53.40 L884.73,66.20Z"/><path d="M817.07,87.10 L817.07,76.47 L814.16,78.39 L814.16,76.38 L817.20,74.30 L819.50,74.30 L819.50,87.10Z"/><path d="M88.64,567.60 L88.64,555.95 L85.45,558.05 L85.45,555.85 L88.79,553.57 L91.30,553.57 L91.30,567.60Z"/><path d="M388.12,567.60 L388.12,555.95 L384.93,558.05 L384.93,555.85 L388.27,553.57 L390.78,553.57 L390.78,567.60Z"/><path d="M439.32,567.60 L439.32,555.95 L436.12,558.05 L436.12,555.85 L439.46,553.57 L441.98,553.57 L441.98,567.60Z"/><path d="M582.15,567.60 L582.15,555.95 L578.95,558.05 L578.95,555.85 L582.29,553.57 L584.81,553.57 L584.81,567.60Z"/><path d="M132.13,590.60 L132.13,578.95 L128.93,581.05 L128.93,578.85 L132.27,576.57 L134.79,576.57 L134.79,590.60Z"/><path d="M285.72,590.60 L285.72,578.95 L282.52,581.05 L282.52,578.85 L285.87,576.57 L288.38,576.57 L288.38,590.60Z"/><path d="M326.14,590.60 L326.14,578.95 L322.95,581.05 L322.95,578.85 L326.29,576.57 L328.80,576.57 L328.80,590.60Z"/><path d="M377.35,590.60 L377.35,578.95 L374.15,581.05 L374.15,578.85 L377.49,576.57 L380.01,576.57 L380.01,590.60Z"/><path d="M428.54,590.60 L428.54,578.95 L425.35,581.05 L425.35,578.85 L428.69,576.57 L431.20,576.57 L431.20,590.60Z"/><path d="M439.32,590.60 L439.32,578.95 L436.12,581.05 L436.12,578.85 L439.46,576.57 L441.98,576.57 L441.98,590.60Z"/><path d="M121.35,613.40 L121.35,601.75 L118.15,603.85 L118.15,601.65 L121.49,599.37 L124.01,599.37 L124.01,613.40Z"/><path d="M331.53,613.40 L331.53,601.75 L328.33,603.85 L328.33,601.65 L331.67,599.37 L334.19,599.37 L334.19,613.40Z"/><path d="M85.75,794.90 L85.75,783.42 L82.60,785.49 L82.60,783.32 L85.89,781.07 L88.37,781.07 L88.37,794.90Z"/><path d="M183.83,1257.60 L183.83,1245.95 L180.64,1248.05 L180.64,1245.85 L183.98,1243.57 L186.49,1243.57 L186.49,1257.60Z"/><path d="M523.70,1003.00 L523.70,991.35 L520.51,993.45 L520.51,991.25 L523.85,988.97 L526.36,988.97 L526.36,1003.00Z"/><path d="M535.02,1003.00 L535.02,991.35 L531.83,993.45 L531.83,991.25 L535.17,988.97 L537.68,988.97 L537.68,1003.00Z"/><path d="M546.34,1003.00 L546.34,991.35 L543.15,993.45 L543.15,991.25 L546.49,988.97 L549.00,988.97 L549.00,1003.00Z"/><path d="M649.26,795.60 L649.26,785.09 L646.37,786.98 L646.37,785.00 L649.38,782.94 L651.65,782.94 L651.65,795.60Z"/><path d="M470.84,1332.90 L470.84,1321.25 L467.64,1323.35 L467.64,1321.15 L470.98,1318.87 L473.50,1318.87 L473.50,1332.90Z"/><path d="M528.24,1356.00 L528.24,1344.35 L525.04,1346.45 L525.04,1344.25 L528.38,1341.97 L530.90,1341.97 L530.90,1356.00Z"/><path d="M585.64,1356.00 L585.64,1344.35 L582.44,1346.45 L582.44,1344.25 L585.78,1341.97 L588.30,1341.97 L588.30,1356.00Z"/><path d="M643.04,1356.00 L643.04,1344.35 L639.84,1346.45 L639.84,1344.25 L643.18,1341.97 L645.70,1341.97 L645.70,1356.00Z"/></g>
</svg>
</body></html>
